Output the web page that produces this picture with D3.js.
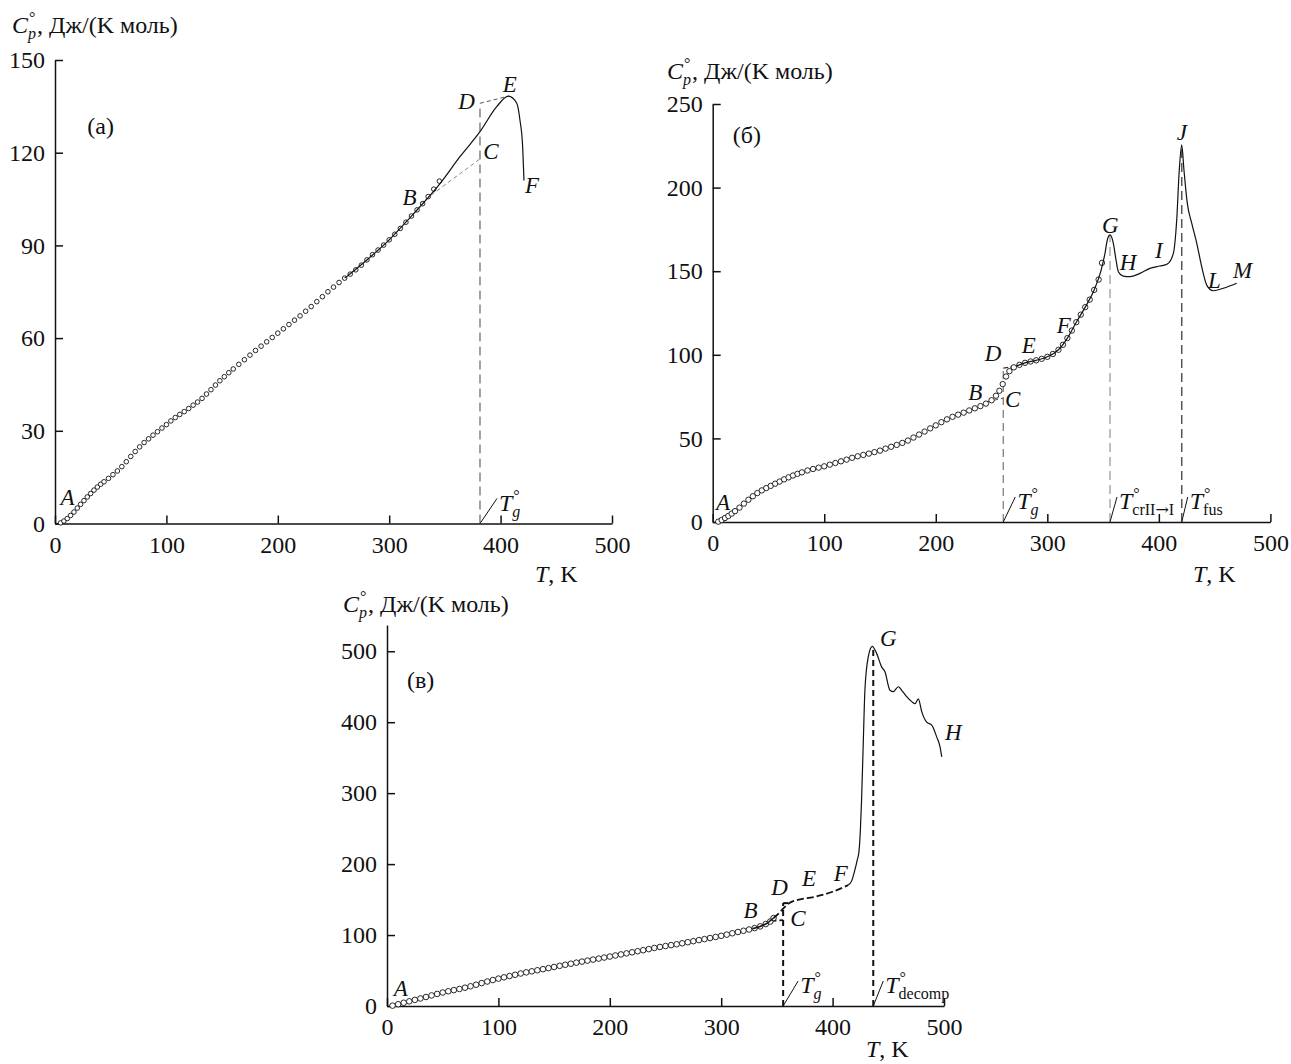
<!DOCTYPE html>
<html>
<head>
<meta charset="utf-8">
<script src="https://cdnjs.cloudflare.com/ajax/libs/d3/7.8.5/d3.min.js"></script>
<style>
  body { margin: 0; background: #fff; }
  svg { display: block; }
  text { font-family: "Liberation Serif", "Times New Roman", serif; fill: #111; }
</style>
</head>
<body>
<svg id="chart" width="1291" height="1064"></svg>
<script>
// ---------- data ----------
var tickT = [0, 100, 200, 300, 400, 500];
var ticksA = [0, 30, 60, 90, 120, 150];
var ticksB = [0, 50, 100, 150, 200, 250];
var ticksC = [0, 100, 200, 300, 400, 500];

// panel (а): experimental points and DSC curve
var expA_T = [5,8,11,14,17,20,23,26,29,32,35,38,41,44,48,52,56,60,64,68,72,76,80,84,88,92,96,100,104,108,112,116,120,124,128,132,136,140,144,148,152,156,160,165,170,175,180,185,190,195,200,205,210,215,220,225,230,235,240,245,250,255,260,265,270,275,280,285,290,295,300,305,310,315,320,325,330,335,340,345];
var expA_Cp = [0.2,0.8,1.6,2.6,3.7,5.0,6.2,7.4,8.6,9.7,10.8,11.8,12.7,13.5,14.6,15.8,17.0,18.4,20.0,21.7,23.3,24.8,26.2,27.4,28.6,29.7,30.9,32.0,33.2,34.3,35.3,36.2,37.2,38.3,39.3,40.5,41.9,43.3,44.8,46.2,47.5,48.8,50.0,51.5,53.0,54.5,56.0,57.4,58.8,60.2,61.6,63.0,64.4,65.8,67.2,68.7,70.2,71.8,73.4,75.0,76.5,78.0,79.4,80.7,82.1,83.6,85.3,87.0,88.5,90.1,91.8,93.6,95.5,97.5,99.5,101.5,103.5,105.8,108.2,110.8];
var lineA_T = [260,280,300,320,327.6,345.6,363.5,381.5,396.5,407,414.5,417.4,419.8,421];
var lineA_Cp = [79.4,85.3,91.8,99.5,102.5,110,118.7,126.8,134.9,138.3,136,130.5,121.9,111];
var glassA = 381.5;       // T°g
var pointsA_BC = [[327.6, 103.6], [381.5, 118]];
var pointsA_DE = [[381.5, 136], [407, 138.3]];

// panel (б)
var expB_T = [5,8,11,14,17,20,24,28,32,36,40,44,48,52,56,60,64,68,72,76,80,85,90,95,100,105,110,115,120,125,130,135,140,145,150,155,160,165,170,175,180,185,190,195,200,205,210,215,220,225,230,235,240,245,250,254,257,260,263,266,270,275,280,285,290,295,300,305,310,314,318,322,326,330,334,338,342,346,349];
var expB_Cp = [0.2,1.2,2.4,3.6,5.0,6.5,8.6,11.0,13.3,15.4,17.3,18.9,20.3,21.6,22.9,24.2,25.5,26.7,27.8,28.8,29.7,30.8,31.7,32.5,33.3,34.3,35.3,36.3,37.3,38.4,39.3,40.1,40.9,41.8,42.7,43.9,45.0,46.1,47.3,48.7,50.5,52.3,54.1,56.0,57.8,59.7,61.4,62.9,64.2,65.4,66.7,68.0,69.3,70.8,72.8,75.5,78.5,82.5,87.0,90.2,92.5,94.0,95.2,96.0,96.7,97.6,98.8,100.5,103.0,106.0,110.0,114.5,119.5,124.0,128.5,133.0,138.8,145.0,155.0];
var lineB_T = [272,280,290,300,310,318,326,334,342,348,351.7,353.8,356.2,359.2,361.6,363.7,368.1,374.1,383,392,401,407.6,413,416,418.3,420.5,422.5,425.5,429.5,434,438.4,442.9,448.8,457.8,469.8];
var lineB_Cp = [93.2,95.2,96.7,98.8,103,110,119.5,128.5,138.8,150,160.7,168.7,171.7,166.7,156.7,149.7,147.1,146.7,148.7,151.7,153.1,154.3,160.7,180.6,210.5,225.5,210.5,190.6,178.6,166.7,152.7,141.7,138.3,139.8,142.8];
var glassB = 260.5, crystB = 356.2, fusB = 420.5;
var pointsB_BC = [[246, 72], [260.5, 74]];
var pointsB_DE = [[260.5, 92], [272, 93.2]];

// panel (в)
var expC_T = [5,10,15,20,25,30,35,40,45,50,55,60,65,70,75,80,85,90,95,100,105,110,115,120,125,130,135,140,145,150,155,160,165,170,175,180,185,190,195,200,205,210,215,220,225,230,235,240,245,250,255,260,265,270,275,280,285,290,295,300,305,310,315,320,325,330,335,340,344,347];
var expC_Cp = [0.5,2.5,4.6,6.6,8.6,10.6,12.7,14.9,17.0,19.0,20.8,22.4,24.0,25.8,27.8,30.0,32.3,34.5,36.6,38.6,40.4,42.2,44.0,45.8,47.4,48.9,50.4,51.9,53.4,55.0,56.6,58.1,59.6,61.1,62.6,64.0,65.4,66.8,68.3,69.7,71.2,72.7,74.2,75.7,77.2,78.7,80.2,81.8,83.2,84.5,85.8,87.0,88.4,89.9,91.4,92.9,94.3,95.8,97.3,98.9,100.6,102.5,104.3,106.0,107.8,109.8,112.2,115.5,119.0,124.0];
var lineC1_T = [328,335,340,347];
var lineC1_Cp = [109,112.2,115.5,124];
var lineC2_T = [347,352,356,362,368,383,400,414];
var lineC2_Cp = [124,131,138,146,149.3,153.5,161,170.4];
var lineC3_T = [414,417,419.7,422,423.7,425,426,427.6,429,432,435.6,439.5,444,447,451.5,454.5,459,462,466.5,471,474,477,480,484.5,489,493.5,496.5,498];
var lineC3_Cp = [170.4,176,190,205,218,250,290,375,445,492,507,497,478,471,445,443,450,445,436,429,426,433,415,400,396,379,365,351];
var glassC = 355.6, decompC = 436.5;
var pointsC_BC = [[346, 120], [355.6, 121]];
var pointsC_DE = [[355.6, 145], [362, 145]];

// ---------- drawing ----------
var svg = d3.select("#chart");
var FS = 24, SS = 16;

function zip(a, b) { return a.map(function(v, i) { return [v, b[i]]; }); }

function measure(str, size, italic) {
  var t = svg.append("text").attr("font-size", size)
    .style("font-style", italic ? "italic" : "normal").text(str);
  var w = t.node().getComputedTextLength();
  t.remove();
  return w;
}

// one text: symbol with stacked ° and subscript, e.g. C°p, T°g
function stacked(g, x, y, main, sub, subItalic, rest) {
  var degW = measure("°", SS, false);
  var subW = measure(sub, SS, subItalic);
  var t = g.append("text").attr("x", x).attr("y", y).attr("font-size", FS);
  t.append("tspan").style("font-style", "italic").text(main);
  t.append("tspan").attr("dx", 1).attr("dy", -10).attr("font-size", SS).text("°");
  var parts = sub.split("→");
  t.append("tspan").attr("dx", -degW - 1).attr("dy", 16).attr("font-size", SS)
    .style("font-style", subItalic ? "italic" : "normal").text(parts[0]);
  if (parts.length > 1) {
    // the serif face draws a tiny arrow, so take it from DejaVu
    t.append("tspan").attr("font-size", SS).style("font-family", "DejaVu Serif").text("→");
    t.append("tspan").attr("font-size", SS).text(parts[1]);
  }
  if (rest) {
    t.append("tspan").attr("dx", Math.max(0, degW - subW) + 1).attr("dy", -6).text(rest);
  }
}

function drawPanel(p) {
  var x = d3.scaleLinear().domain([0, 500]).range(p.xRange);
  var y = d3.scaleLinear().domain(p.yDomain).range(p.yRange);
  var g = svg.append("g");
  var line = d3.line().x(function(d) { return x(d[0]); }).y(function(d) { return y(d[1]); });
  var curve = d3.line().curve(d3.curveMonotoneX)
    .x(function(d) { return x(d[0]); }).y(function(d) { return y(d[1]); });

  // axes
  var xa = g.append("g").attr("transform", "translate(0," + y(0) + ")")
    .call(d3.axisBottom(x).tickValues(tickT).tickSizeInner(-8).tickSizeOuter(0).tickPadding(12));
  var ya = g.append("g").attr("transform", "translate(" + x(0) + ",0)")
    .call(d3.axisLeft(y).tickValues(p.yTicks).tickSizeInner(-8).tickSizeOuter(0).tickPadding(10));
  [xa, ya].forEach(function(a) {
    a.attr("font-family", null).attr("font-size", null);
    a.selectAll("path, line").attr("stroke", "#111").attr("stroke-width", 1.5);
    a.selectAll("text").attr("font-size", FS).attr("fill", "#111");
  });

  // transition lines
  p.verticals.forEach(function(v) {
    g.append("path").attr("d", line([[v.T, 0], [v.T, v.top]]))
      .attr("fill", "none").attr("stroke", v.color).attr("stroke-width", v.width)
      .attr("stroke-dasharray", v.dash);
    var x0 = x(v.T), y0 = y(0);
    g.append("path").attr("d", "M" + x0 + "," + y0 + "L" + (x0 + v.dx - 2) + "," + (y0 - 25))
      .attr("stroke", "#111").attr("stroke-width", 1).attr("fill", "none");
    stacked(g, x0 + v.dx, y0 - 13, "T", v.sub, v.subItalic, null);
  });

  // dashed helpers (B–C extrapolation, D bracket)
  p.dashes.forEach(function(d) {
    g.append("path").attr("d", line(d.pts)).attr("fill", "none")
      .attr("stroke", d.color).attr("stroke-width", d.width).attr("stroke-dasharray", d.dash);
  });

  // experimental points
  g.append("g").selectAll("circle").data(p.points).join("circle")
    .attr("cx", function(d) { return x(d[0]); })
    .attr("cy", function(d) { return y(d[1]); })
    .attr("r", p.r).attr("fill", "#fff").attr("stroke", "#111").attr("stroke-width", 0.9);

  // curves
  p.curves.forEach(function(c) {
    g.append("path").attr("d", curve(c.pts)).attr("fill", "none")
      .attr("stroke", "#111").attr("stroke-width", c.width)
      .attr("stroke-dasharray", c.dash || null);
  });

  // point letters
  p.letters.forEach(function(l) {
    g.append("text").attr("x", x(l[1])).attr("y", y(l[2])).attr("font-size", 23)
      .style("font-style", "italic").text(l[0]);
  });

  // panel tag
  g.append("text").attr("x", x(p.tag[1])).attr("y", y(p.tag[2])).attr("font-size", FS).text(p.tag[0]);

  // axis titles
  stacked(g, p.yTitle[0], p.yTitle[1], "C", "p", true, ", Дж/(K моль)");
  var xt = g.append("text").attr("x", p.xTitle[0]).attr("y", p.xTitle[1]).attr("font-size", FS);
  xt.append("tspan").style("font-style", "italic").text("T");
  xt.append("tspan").text(", K");
}

drawPanel({
  xRange: [55, 612], yDomain: [0, 150], yRange: [523.5, 60], yTicks: ticksA, r: 2.3,
  points: zip(expA_T, expA_Cp),
  curves: [{ pts: zip(lineA_T, lineA_Cp), width: 1.2 }],
  verticals: [{ T: glassA, top: 136, color: "#666", width: 1.2, dash: "9,5", sub: "g", subItalic: true, dx: 19 }],
  dashes: [
    { pts: pointsA_BC, color: "#777", width: 0.9, dash: "4,3" },
    { pts: pointsA_DE, color: "#555", width: 1, dash: "4,3" }
  ],
  letters: [["A", 5, 6], ["B", 312, 103], ["C", 384.5, 118], ["D", 362, 134], ["E", 402, 139.5], ["F", 422, 107]],
  tag: ["(а)", 29, 126],
  yTitle: [12, 33], xTitle: [535, 582]
});

drawPanel({
  xRange: [712.7, 1270.4], yDomain: [0, 250], yRange: [522, 104], yTicks: ticksB, r: 2.7,
  points: zip(expB_T, expB_Cp),
  curves: [{ pts: zip(lineB_T, lineB_Cp), width: 1.2 }],
  verticals: [
    { T: glassB, top: 92, color: "#777", width: 1.2, dash: "8,5", sub: "g", subItalic: true, dx: 14 },
    { T: crystB, top: 171.7, color: "#aaa", width: 1.5, dash: "9,5", sub: "crII→I", subItalic: false, dx: 9 },
    { T: fusB, top: 225.5, color: "#555", width: 1.5, dash: "9,5", sub: "fus", subItalic: false, dx: 8 }
  ],
  dashes: [
    { pts: pointsB_BC, color: "#555", width: 1, dash: "4,3" },
    { pts: pointsB_DE, color: "#333", width: 1.2, dash: "5,2" }
  ],
  letters: [["A", 3, 7], ["B", 229, 73], ["C", 262, 69], ["D", 244, 96.5], ["E", 277, 101], ["F", 308.5, 113],
            ["G", 349, 173], ["H", 365, 150.5], ["I", 396.5, 158], ["J", 416, 228.5], ["L", 444, 140], ["M", 466.5, 146]],
  tag: ["(б)", 18, 226.5],
  yTitle: [667, 79], xTitle: [1193, 582]
});

drawPanel({
  xRange: [387, 944], yDomain: [0, 537], yRange: [1006, 625], yTicks: ticksC, r: 2.8,
  points: zip(expC_T, expC_Cp),
  curves: [
    { pts: zip(lineC1_T, lineC1_Cp), width: 1.6 },
    { pts: zip(lineC2_T, lineC2_Cp), width: 1.8, dash: "7,3" },
    { pts: zip(lineC3_T, lineC3_Cp), width: 1.2 }
  ],
  verticals: [
    { T: glassC, top: 145, color: "#111", width: 2, dash: "6,4", sub: "g", subItalic: true, dx: 17 },
    { T: decompC, top: 507, color: "#111", width: 2, dash: "6,4", sub: "decomp", subItalic: false, dx: 12 }
  ],
  dashes: [
    { pts: pointsC_BC, color: "#111", width: 1.6, dash: "4,3" },
    { pts: pointsC_DE, color: "#111", width: 2, dash: "5,3" }
  ],
  letters: [["A", 6, 14], ["B", 320, 124], ["C", 362, 113], ["D", 345, 156.5], ["E", 372.5, 169], ["F", 401, 176],
            ["G", 442.5, 507], ["H", 501, 375]],
  tag: ["(в)", 18, 448],
  yTitle: [343, 612], xTitle: [866, 1057]
});
</script>
</body>
</html>
